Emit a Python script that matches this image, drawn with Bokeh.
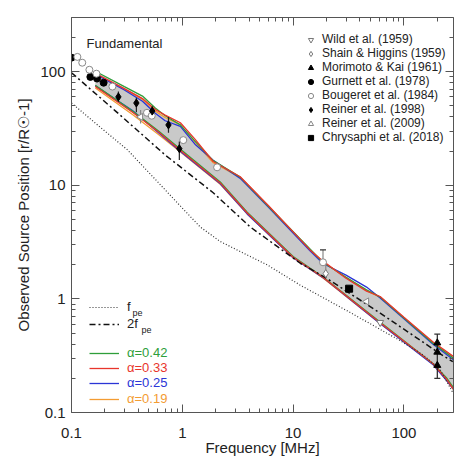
import math
from bokeh.plotting import figure
from bokeh.models import (Range1d, LogAxis, FixedTicker, CustomJSTickFormatter,
                          Legend, LegendItem, Label)
from bokeh.embed import file_html
from bokeh.resources import INLINE

# ---------------- data ----------------
x_major = [0.1, 1, 10, 100]
x_minor = [0.2, 0.3, 0.4, 0.5, 0.6, 0.7, 0.8, 0.9, 2, 3, 4, 5, 6, 7, 8, 9,
           20, 30, 40, 50, 60, 70, 80, 90, 200]
y_major = [0.1, 1, 10, 100]
y_minor = [0.2, 0.3, 0.4, 0.5, 0.6, 0.7, 0.8, 0.9, 2, 3, 4, 5, 6, 7, 8, 9,
           20, 30, 40, 50, 60, 70, 80, 90, 200, 300]

# plasma frequency level (f_pe) and harmonic level (2 f_pe)
fpe_freq = [0.1, 0.2, 0.32, 0.6, 1.0, 1.45, 2.2, 3.5, 5.8, 11.6, 32.7, 92, 150, 211, 276]
fpe_r = [53, 30, 20.5, 10.7, 6.3, 4.3, 3.2, 2.55, 2.0, 1.32, 0.76, 0.43, 0.32, 0.24, 0.15]
h2_freq = [0.1, 0.25, 0.7, 1.9, 4.1, 11.6, 19.4, 61, 211, 276]
h2_r = [98, 45, 18.5, 8.6, 4.3, 2.06, 1.55, 0.75, 0.33, 0.28]

# envelope of simulated source positions (upper / lower edges)
up_freq = [0.164, 0.3, 0.437, 0.57, 0.7, 0.96, 1.3, 1.9, 3.33, 6.0, 14.2, 18.6,
           30, 46, 61, 100, 182, 281]
up_r = [100, 72, 59, 46, 40, 34, 24, 16.1, 11.8, 6.5, 2.7, 2.1, 1.55, 1.19,
        1.04, 0.68, 0.41, 0.3]
lo_freq = [0.164, 0.355, 0.61, 0.95, 2.2, 3.85, 10, 18.6, 57, 182, 244, 281]
lo_r = [74, 44, 29.5, 20.5, 10.5, 5.7, 2.33, 1.55, 0.65, 0.27, 0.195, 0.16]

# individual curves for each alpha
alphas = ["0.42", "0.33", "0.25", "0.19"]
up_r_a = {
    "0.42": [101, 74, 61, 48, 41, 34, 24.5, 16.5, 11.8, 6.5, 2.75, 2.1, 1.55, 1.2, 1.04, 0.68, 0.41, 0.3],
    "0.33": [97, 71, 58, 46.5, 41.5, 35.5, 25.5, 16.2, 11.9, 6.6, 2.7, 2.15, 1.52, 1.17, 1.05, 0.69, 0.42, 0.31],
    "0.25": [95, 69, 55, 43, 37, 33, 23, 16.6, 11.5, 6.4, 2.65, 2.05, 1.62, 1.27, 1.02, 0.67, 0.4, 0.29],
    "0.19": [96, 70, 57, 45, 39.5, 34, 24, 15.8, 11.7, 6.5, 2.7, 2.1, 1.55, 1.18, 1.03, 0.68, 0.41, 0.3],
}
lo_r_a = {
    "0.42": [76, 45, 30, 21, 10.7, 5.8, 2.36, 1.56, 0.66, 0.27, 0.2, 0.165],
    "0.33": [74, 44, 29.5, 20.5, 10.5, 5.7, 2.33, 1.55, 0.65, 0.27, 0.195, 0.16],
    "0.25": [75, 45.5, 29, 20, 10.3, 5.6, 2.3, 1.54, 0.64, 0.265, 0.19, 0.16],
    "0.19": [72, 42, 28, 19.8, 10.2, 5.6, 2.3, 1.53, 0.64, 0.268, 0.19, 0.158],
}
alpha_colors = {"0.42": "#2e9e3a", "0.33": "#e8352c", "0.25": "#2b35d6", "0.19": "#f39c33"}

# observations
wild_f, wild_r = [61], [0.62]
shain_f, shain_r = [19.7], [1.67]
morimoto_f, morimoto_r = [200, 200, 200], [0.41, 0.34, 0.26]
gurnett_f, gurnett_r = [0.1, 0.148, 0.17, 0.195], [133, 90, 87, 80]
bougeret_f = [0.113, 0.125, 0.145, 0.168, 0.234, 0.48, 0.53, 1.02, 2.06, 18.6]
bougeret_r = [135, 120, 104, 96, 74, 43.5, 41, 25, 14.4, 2.1]
reiner98_f = [0.265, 0.385, 0.535, 0.75, 0.94]
reiner98_r = [60, 53, 45, 34, 21]
reiner09_f, reiner09_r = [0.42, 46], [40, 0.95]
chrysaphi_f, chrysaphi_r = [32], [1.23]

# error bars
err_f = [0.265, 0.385, 0.535, 0.75, 0.94, 200]
err_lo = [54, 44, 40, 29, 16.7, 0.2]
err_hi = [67, 59, 50, 40, 24.3, 0.49]
gerr_f = [0.42, 18.6, 19.7]
gerr_lo = [35, 2.1, 1.6]
gerr_hi = [46, 2.7, 2.1]
cap_f = [18.6, 200, 200]
cap_r = [2.7, 0.49, 0.2]

FONT = "Liberation Sans"

# ---------------- figure ----------------
p = figure(x_axis_type="log", y_axis_type="log",
           x_range=Range1d(0.1, 280), y_range=Range1d(0.1, 300),
           frame_width=382, frame_height=395,
           min_border_left=71, min_border_top=17, min_border_bottom=48,
           min_border_right=1,
           output_backend="svg", toolbar_location=None)
p.grid.visible = False
p.outline_line_color = None
p.background_fill_color = "white"
p.border_fill_color = "white"

axcol = "#555555"
fmt = CustomJSTickFormatter(code="return tick.toString();")
blank = CustomJSTickFormatter(code="return '';")

for ax in (p.xaxis[0], p.yaxis[0]):
    ax.formatter = fmt
    ax.major_label_text_font = FONT
    ax.major_label_text_font_size = "15px"
    ax.major_label_text_color = "#222222"
    ax.axis_label_text_font = FONT
    ax.axis_label_text_font_size = "15px"
    ax.axis_label_text_font_style = "normal"
    ax.axis_label_text_color = "#222222"
    ax.axis_line_color = axcol
    ax.major_tick_line_color = axcol
    ax.minor_tick_line_color = axcol
    ax.major_tick_in = 8
    ax.major_tick_out = 0
    ax.minor_tick_in = 4
    ax.minor_tick_out = 0
p.xaxis[0].ticker = FixedTicker(ticks=x_major, minor_ticks=x_minor)
p.yaxis[0].ticker = FixedTicker(ticks=y_major, minor_ticks=y_minor)
p.xaxis[0].axis_label = "Frequency [MHz]"
p.yaxis[0].axis_label = "Observed Source Position [r/R\u2609-1]"
p.xaxis[0].major_label_standoff = 15
p.xaxis[0].axis_label_standoff = -2
p.yaxis[0].major_label_standoff = 6
p.yaxis[0].axis_label_standoff = 5

for loc, tk in (("above", FixedTicker(ticks=x_major, minor_ticks=x_minor)),
                ("right", FixedTicker(ticks=y_major, minor_ticks=y_minor))):
    ax = LogAxis(ticker=tk, formatter=blank, major_tick_in=8, major_tick_out=0,
                 minor_tick_in=4, minor_tick_out=0, major_label_standoff=0,
                 axis_line_color=axcol, major_tick_line_color=axcol,
                 minor_tick_line_color=axcol)
    p.add_layout(ax, loc)

# envelope
p.patch(up_freq + lo_freq[::-1], up_r + lo_r[::-1], fill_color="#c9c9c9",
        line_color=None)

# alpha curves
alpha_r = {}
for a in ["0.19", "0.25", "0.42", "0.33"]:
    c = alpha_colors[a]
    r1 = p.line(up_freq, up_r_a[a], line_color=c, line_width=1.3)
    p.line(lo_freq, lo_r_a[a], line_color=c, line_width=1.3)
    alpha_r[a] = r1

# plasma levels
r_fpe = p.line(fpe_freq, fpe_r, line_color="#333333", line_width=1.2, line_dash="1 2")
r_h2 = p.line(h2_freq, h2_r, line_color="#111111", line_width=1.5, line_dash="6 3 2 3")

# error bars
p.segment(err_f, err_lo, err_f, err_hi, line_color="#222222", line_width=1.2)
p.segment(gerr_f, gerr_lo, gerr_f, gerr_hi, line_color="#888888", line_width=1.2)
p.scatter(cap_f, cap_r, marker="dash", size=6, line_color="#333333", line_width=1.2)

# observations
r_wild = p.scatter(wild_f, wild_r, marker="inverted_triangle", size=7,
                   fill_color="white", line_color="#777777", line_width=1)
r_shain = p.scatter(shain_f, shain_r, marker="diamond", size=8,
                    fill_color="white", line_color="#777777", line_width=1)
r_mori = p.scatter(morimoto_f, morimoto_r, marker="triangle", size=7,
                   fill_color="black", line_color="black")
r_gur = p.scatter(gurnett_f, gurnett_r, marker="circle", size=7,
                  fill_color="black", line_color="black")
r_boug = p.scatter(bougeret_f, bougeret_r, marker="circle", size=7,
                   fill_color="white", line_color="#888888", line_width=1)
r_r98 = p.scatter(reiner98_f, reiner98_r, marker="diamond", size=8,
                  fill_color="black", line_color="black")
r_r09 = p.scatter(reiner09_f, reiner09_r, marker="triangle", size=7, angle=math.pi / 2,
                  fill_color="white", line_color="#888888", line_width=1)
r_chr = p.scatter(chrysaphi_f, chrysaphi_r, marker="square", size=7,
                  fill_color="black", line_color="black")

# marker legend
obs_items = [
    ("Wild et al. (1959)", r_wild),
    ("Shain & Higgins (1959)", r_shain),
    ("Morimoto & Kai (1961)", r_mori),
    ("Gurnett et al. (1978)", r_gur),
    ("Bougeret et al. (1984)", r_boug),
    ("Reiner et al. (1998)", r_r98),
    ("Reiner et al. (2009)", r_r09),
    ("Chrysaphi et al. (2018)", r_chr),
]
leg = Legend(items=[LegendItem(label=l, renderers=[r]) for l, r in obs_items],
             location=(233, 268), padding=0, margin=0, spacing=0,
             glyph_width=13, glyph_height=13, label_height=13, label_standoff=5,
             label_text_font=FONT, label_text_font_size="12px",
             label_text_color="#222222", border_line_color=None,
             background_fill_alpha=0)
p.add_layout(leg)

# line legends (bottom-left)
def small_legend(label, rend, cy, color):
    lg = Legend(items=[LegendItem(label=label, renderers=[rend])],
                location=(18, 412 - cy - 7), padding=0, margin=0, spacing=0,
                glyph_width=30, glyph_height=14, label_height=14, label_standoff=8,
                label_text_font=FONT, label_text_font_size="13px",
                label_text_color=color, border_line_color=None,
                background_fill_alpha=0)
    p.add_layout(lg)

small_legend("f", r_fpe, 307, "#222222")
small_legend("2f", r_h2, 324, "#222222")
for a, cy in zip(alphas, [353, 368, 383, 399]):
    small_legend("\u03b1=" + a, alpha_r[a], cy, alpha_colors[a])

for sx, sy in ((61, 412 - 312), (70, 412 - 329)):
    p.add_layout(Label(x=sx, y=sy, x_units="screen", y_units="screen", text="pe",
                       text_font=FONT, text_font_size="9px", text_color="#222222",
                       text_baseline="middle"))

p.add_layout(Label(x=15, y=412 - 43, x_units="screen", y_units="screen",
                   text="Fundamental", text_font=FONT, text_font_size="13px",
                   text_color="#222222", text_baseline="middle"))

open("out.html", "w").write(file_html(p, INLINE))
